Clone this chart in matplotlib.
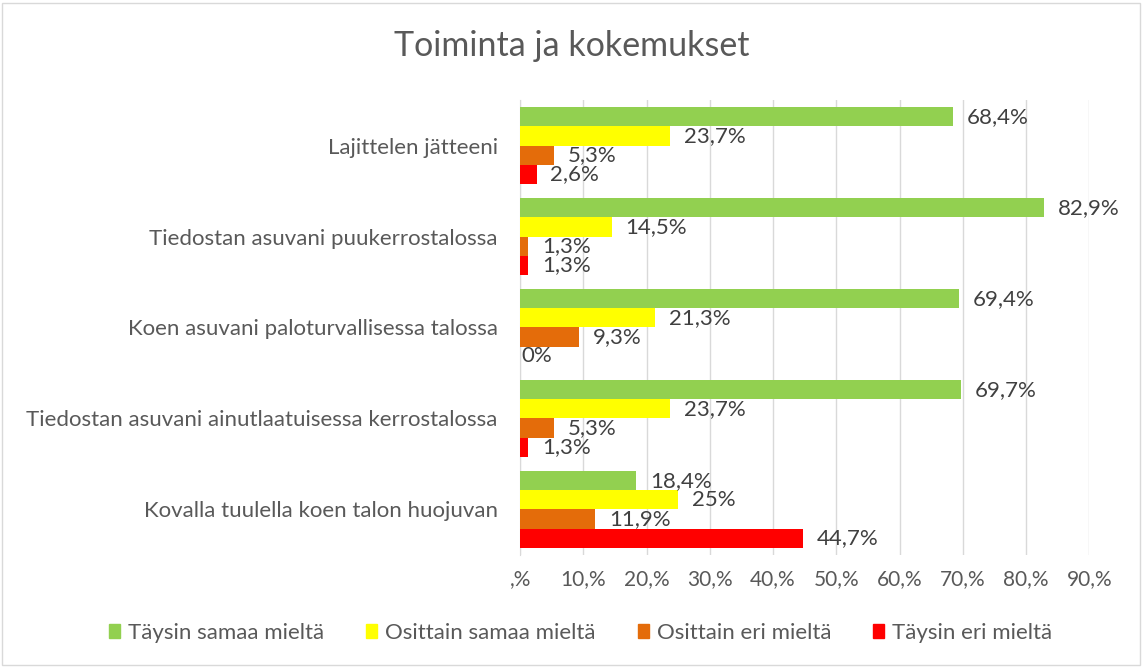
import numpy as np
import matplotlib.pyplot as plt
from matplotlib.patches import Rectangle, Patch

plt.rcParams['font.family'] = ['Lato', 'DejaVu Sans']

categories = [
    "Lajittelen jätteeni",
    "Tiedostan asuvani puukerrostalossa",
    "Koen asuvani paloturvallisessa talossa",
    "Tiedostan asuvani ainutlaatuisessa kerrostalossa",
    "Kovalla tuulella koen talon huojuvan",
]
series = ["Täysin samaa mieltä", "Osittain samaa mieltä", "Osittain eri mieltä", "Täysin eri mieltä"]
taysin_samaa = [68.4, 82.9, 69.4, 69.7, 18.4]
osittain_samaa = [23.7, 14.5, 21.3, 23.7, 25.0]
osittain_eri = [5.3, 1.3, 9.3, 5.3, 11.9]
taysin_eri = [2.6, 1.3, 0.0, 1.3, 44.7]
colors = ["#92D050", "#FFFF00", "#E46C0A", "#FF0000"]
ticks = [0, 10, 20, 30, 40, 50, 60, 70, 80, 90]
tick_labels = [",%", "10,%", "20,%", "30,%", "40,%", "50,%", "60,%", "70,%", "80,%", "90,%"]

values = [taysin_samaa, osittain_samaa, osittain_eri, taysin_eri]
text_col = "#595959"


def fmt(v):
    s = ("%.1f" % v).rstrip("0").rstrip(".")
    return s.replace(".", ",") + "%"


fig = plt.figure(figsize=(11.43, 6.67), dpi=100)
fig.patches.append(Rectangle((0.002, 0.003), 0.995, 0.993, transform=fig.transFigure,
                             fill=False, edgecolor="#D9D9D9", lw=1))
ax = fig.add_axes([0.455, 0.168, 0.498, 0.682])

y = np.arange(len(categories))
h = 0.211
for i, (vals, c, name) in enumerate(zip(values, colors, series)):
    pos = y - 1.5 * h + i * h
    ax.barh(pos, vals, height=h, color=c, label=name, zorder=3)
    for p, v in zip(pos, vals):
        # zero-length bars get their label closer to the axis, like the original
        off = 10 if v > 0 else 1
        ax.annotate(fmt(v), (v, p), xytext=(off, 0), textcoords="offset points",
                    va="center", ha="left", fontsize=16, color="#404040", zorder=4)

ax.set_xlim(0, 90)
ax.set_ylim(len(categories) - 0.5, -0.5)
ax.set_xticks(ticks)
ax.set_xticklabels(tick_labels, fontsize=15, color=text_col)
ax.set_yticks(y)
ax.set_yticklabels(categories, fontsize=16, color=text_col)
ax.tick_params(length=0, pad=10, axis="x")
ax.tick_params(length=0, pad=16, axis="y")
ax.grid(axis="x", color="#D9D9D9", lw=1, zorder=0)
for s in ["top", "right", "bottom"]:
    ax.spines[s].set_visible(False)
ax.spines["left"].set_color("#D9D9D9")

fig.suptitle("Toiminta ja kokemukset", y=0.955, fontsize=24.5, color=text_col)

handles = [Patch(color=c, label=n) for c, n in zip(colors, series)]
fig.legend(handles=handles, loc="center", bbox_to_anchor=(0.508, 0.051), ncol=4,
           frameon=False, fontsize=16, handlelength=0.5, handleheight=0.6,
           handletextpad=0.35, columnspacing=1.9, labelcolor=text_col)

fig.savefig("out.png", dpi=100)
